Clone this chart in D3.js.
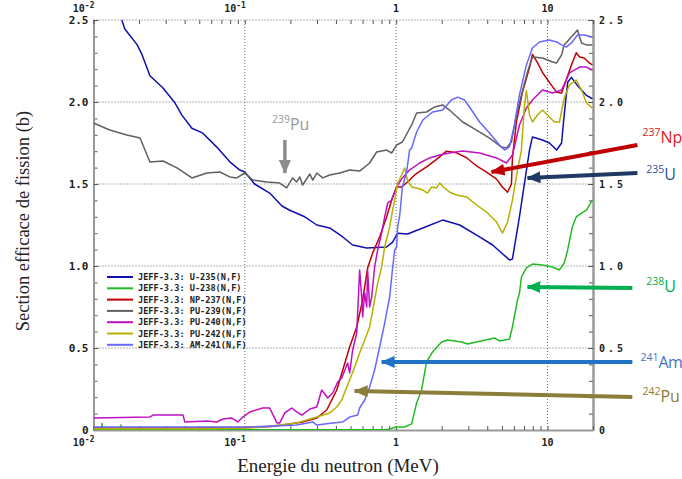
<!DOCTYPE html>
<html>
<head>
<meta charset="utf-8">
<script src="https://cdn.jsdelivr.net/npm/d3@7/dist/d3.min.js"></script>
<style>
body { margin: 0; background: #fff; }
.tick-label { font-family: "DejaVu Sans Mono", monospace; font-weight: bold; fill: #222; }
</style>
</head>
<body>
<div id="chart_div"></div>
<script>
// JEFF-3.3 fission cross sections: [energy (MeV), sigma (b)]
const u235 = [[0.0154,2.50],[0.0161,2.445],[0.0194,2.35],[0.0209,2.29],[0.0236,2.16],[0.0288,2.085],[0.0345,1.995],[0.0384,1.92],
    [0.0447,1.84],[0.0528,1.81],[0.0653,1.725],[0.0796,1.635],[0.0927,1.585],[0.1,1.573],[0.116,1.50],[0.146,1.445],[0.176,1.366],
    [0.198,1.34],[0.249,1.30],[0.299,1.25],[0.364,1.232],[0.444,1.177],[0.516,1.128],[0.639,1.11],[0.865,1.116],[0.948,1.146],
    [1.023,1.20],[1.19,1.195],[1.50,1.232],[2.03,1.28],[2.63,1.25],[3.56,1.177],[4.34,1.128],[5.61,1.037],[5.87,1.043],[6.53,1.30],
    [7.05,1.506],[7.61,1.707],[7.96,1.787],[9.27,1.768],[10.3,1.75],[11.5,1.707],[12.4,1.75],[12.9,1.92],[13.6,2.12],[14.4,2.15],
    [15.8,2.10],[18.1,2.04],[19.8,2.02]];

const u238 = [[0.01,0.002],[0.0113,0.002],[0.01138,0.04],[0.0115,0.002],[0.0151,0.002],[0.01519,0.03],[0.0153,0.002],[0.865,0.002],
    [1.008,0.018],[1.138,0.018],[1.266,0.037],[1.366,0.165],[1.473,0.244],[1.589,0.415],[1.742,0.476],[1.996,0.537],[2.188,0.549],
    [2.706,0.537],[2.965,0.524],[3.398,0.537],[4.467,0.561],[4.82,0.543],[5.61,0.555],[5.87,0.628],[6.34,0.793],[6.53,0.835],
    [6.73,0.933],[7.26,0.988],[7.96,1.012],[9.27,1.006],[10.8,0.994],[12.0,0.976],[12.9,1.018],[13.6,1.098],[14.6,1.238],
    [15.5,1.299],[16.8,1.323],[18.1,1.341],[19.8,1.402]];

const np237 = [[0.01,0.012],[0.05,0.012],[0.1,0.015],[0.15,0.022],[0.178,0.030],[0.241,0.049],[0.299,0.073],[0.348,0.122],
    [0.405,0.244],[0.444,0.366],[0.493,0.506],[0.549,0.628],[0.601,0.793],[0.648,0.988],[0.700,1.080],[0.778,1.177],[0.865,1.299],
    [0.948,1.421],[1.008,1.482],[1.087,1.482],[1.19,1.512],[1.325,1.555],[1.589,1.604],[1.85,1.65],[2.154,1.70],[2.51,1.69],
    [2.92,1.66],[3.40,1.61],[3.96,1.573],[4.61,1.53],[5.05,1.48],[5.45,1.45],[5.78,1.50],[5.87,1.66],[6.24,1.88],[6.84,2.06],
    [7.61,2.21],[7.96,2.29],[8.59,2.24],[9.27,2.18],[10.3,2.12],[11.5,2.06],[12.4,2.055],[13.3,2.134],[14.4,2.226],[15.5,2.30],
    [16.3,2.274],[17.5,2.268],[18.9,2.238],[19.8,2.226]];

const pu239 = [[0.01,1.872],[0.0128,1.829],[0.0166,1.799],[0.0203,1.780],[0.0236,1.634],[0.0288,1.640],[0.0356,1.598],
    [0.0447,1.537],[0.0561,1.567],[0.0684,1.573],[0.0796,1.543],[0.0885,1.537],[0.1,1.567],[0.113,1.524],[0.140,1.512],
    [0.170,1.506],[0.189,1.476],[0.207,1.537],[0.220,1.512],[0.231,1.543],[0.241,1.494],[0.269,1.561],[0.281,1.524],[0.299,1.567],
    [0.327,1.537],[0.364,1.555],[0.424,1.567],[0.493,1.585],[0.574,1.579],[0.668,1.628],[0.743,1.695],[0.865,1.707],[0.934,1.689],
    [1.008,1.738],[1.10,1.756],[1.266,1.860],[1.366,1.933],[1.589,1.939],[1.80,1.970],[2.03,1.982],[2.25,1.951],[2.75,1.878],
    [3.40,1.829],[4.14,1.780],[4.97,1.725],[5.36,1.720],[5.78,1.756],[6.24,1.921],[6.73,2.043],[7.38,2.183],[7.96,2.274],
    [9.27,2.268],[10.8,2.244],[11.5,2.238],[12.4,2.287],[12.9,2.348],[14.4,2.396],[15.8,2.439],[16.8,2.36],[18.1,2.348],[19.8,2.348]];

const pu240 = [[0.01,0.073],[0.0236,0.079],[0.0247,0.091],[0.0390,0.091],[0.0402,0.049],[0.0561,0.055],[0.0653,0.049],
    [0.0716,0.067],[0.0821,0.073],[0.0899,0.049],[0.097,0.079],[0.108,0.110],[0.131,0.134],[0.146,0.134],[0.163,0.043],
    [0.170,0.043],[0.184,0.104],[0.204,0.134],[0.220,0.110],[0.238,0.091],[0.269,0.128],[0.299,0.140],[0.322,0.244],[0.353,0.195],
    [0.381,0.226],[0.411,0.293],[0.437,0.317],[0.478,0.409],[0.493,0.348],[0.516,0.488],[0.549,0.591],[0.574,0.976],[0.592,0.811],
    [0.601,0.689],[0.620,0.835],[0.639,0.750],[0.648,0.976],[0.668,0.750],[0.689,0.811],[0.721,0.994],[0.755,1.098],[0.802,1.201],
    [0.840,1.299],[0.879,1.384],[0.934,1.402],[1.008,1.482],[1.10,1.537],[1.227,1.585],[1.429,1.628],[1.664,1.659],[1.936,1.677],
    [2.25,1.689],[2.75,1.701],[3.56,1.689],[4.61,1.659],[5.36,1.628],[5.87,1.677],[6.53,1.860],[7.26,1.963],[7.96,2.012],
    [9.27,2.073],[10.8,2.055],[12.4,2.073],[13.97,2.177],[16.3,2.213],[18.1,2.213],[19.8,2.195]];

const pu242 = [[0.01,0.008],[0.05,0.008],[0.108,0.012],[0.131,0.018],[0.220,0.043],[0.299,0.079],[0.364,0.104],[0.405,0.140],
    [0.437,0.183],[0.464,0.244],[0.493,0.305],[0.532,0.384],[0.574,0.470],[0.620,0.549],[0.668,0.628],[0.721,0.793],[0.755,0.896],
    [0.802,0.994],[0.840,1.116],[0.906,1.238],[0.948,1.341],[0.978,1.402],[1.023,1.506],[1.087,1.555],[1.138,1.598],[1.19,1.524],
    [1.266,1.482],[1.366,1.476],[1.50,1.463],[1.614,1.445],[1.716,1.482],[1.85,1.476],[1.936,1.506],[2.09,1.476],[2.25,1.451],
    [2.51,1.433],[2.92,1.421],[3.40,1.372],[3.96,1.329],[4.61,1.268],[5.05,1.201],[5.45,1.268],[5.87,1.402],[6.34,1.585],
    [6.73,1.707],[7.05,1.98],[7.26,2.07],[7.61,1.921],[7.96,1.878],[8.59,1.921],[9.27,1.951],[10.0,1.921],[11.1,1.878],
    [12.0,1.878],[12.9,2.024],[13.97,2.104],[15.5,2.134],[16.8,2.073],[18.1,1.994],[19.8,1.963]];

const am241 = [[0.01,0.018],[0.108,0.018],[0.220,0.030],[0.281,0.049],[0.299,0.030],[0.381,0.043],[0.444,0.049],[0.493,0.079],
    [0.557,0.091],[0.574,0.134],[0.620,0.183],[0.668,0.262],[0.721,0.366],[0.778,0.506],[0.840,0.652],[0.906,0.811],[0.948,0.988],
    [0.978,1.098],[1.008,1.116],[1.023,1.238],[1.055,1.305],[1.10,1.482],[1.173,1.573],[1.227,1.707],[1.266,1.719],[1.366,1.817],
    [1.50,1.890],[1.742,1.939],[2.03,1.951],[2.32,2.012],[2.55,2.030],[2.83,2.012],[3.15,1.951],[3.56,1.878],[4.14,1.811],
    [4.82,1.738],[5.20,1.707],[5.61,1.726],[6.05,1.860],[6.53,2.043],[7.26,2.226],[7.96,2.329],[8.85,2.366],[10.3,2.378],
    [11.5,2.366],[12.4,2.348],[13.3,2.335],[14.4,2.360],[15.8,2.409],[17.5,2.409],[19.8,2.396]];

const seriesData = [u235, u238, np237, pu239, pu240, pu242, am241];
const seriesNames = ["JEFF-3.3: U-235(N,F)", "JEFF-3.3: U-238(N,F)", "JEFF-3.3: NP-237(N,F)", "JEFF-3.3: PU-239(N,F)",
    "JEFF-3.3: PU-240(N,F)", "JEFF-3.3: PU-242(N,F)", "JEFF-3.3: AM-241(N,F)"];
const seriesColors = ["#1010b0", "#22bb22", "#c00000", "#606060", "#c010c0", "#b8b000", "#6868ff"];

const xTickVals = [0.01, 0.1, 1, 10];
const xTickBase = ["10", "10", "1", "10"];
const xTickExp = ["-2", "-1", "", ""];
const yTickVals = [0, 0.5, 1, 1.5, 2, 2.5];
const yTickLabels = ["0", "0.5", "1.0", "1.5", "2.0", "2.5"];

// nuclide arrows, in data units: arrow start, arrow tip, label anchor
const annotSup = ["237", "235", "238", "241", "242", "239"];
const annotMain = ["Np", "U", "U", "Am", "Pu", "Pu"];
const annotFrom = [[39.3,1.738],[39.3,1.567],[36.4,0.866],[36.4,0.415],[36.4,0.201],[0.184,1.768]];
const annotTip = [[4.27,1.573],[7.38,1.537],[7.38,0.872],[0.802,0.415],[0.532,0.238],[0.184,1.567]];
const annotLabelAt = [[42.4,1.750],[45.0,1.524],[45.0,0.841],[41.2,0.378],[42.4,0.171],[0.151,1.829]];
const annotColors = ["#c00000", "#1f3864", "#00b050", "#1f74c4", "#8b7d3a", "#8c8c8c"];
const annotTextColors = ["#e02020", "#2f5597", "#00b050", "#4472c4", "#8b7d3a", "#999999"];

var svg = d3.select("#chart_div").append("svg")
    .attr("width", 682)
    .attr("height", 479);

var xScale = d3.scaleLog().domain([0.01, 20]).range([93.5, 593]);
var yScale = d3.scaleLinear().domain([0, 2.5]).range([430, 20]);

svg.append("defs").append("clipPath").attr("id", "plotclip")
    .append("rect")
    .attr("x", xScale(0.01)).attr("y", yScale(2.5))
    .attr("width", xScale(20) - xScale(0.01))
    .attr("height", yScale(0) - yScale(2.5));

// dotted grid
var grid = svg.append("g").attr("stroke", "#444").attr("stroke-width", 0.8).attr("stroke-dasharray", "1,2");
[0.1, 1, 10].forEach(v => {
    grid.append("line")
        .attr("x1", xScale(v)).attr("x2", xScale(v))
        .attr("y1", yScale(0)).attr("y2", yScale(2.5));
});
[0.5, 1, 1.5, 2, 2.5].forEach(v => {
    grid.append("line")
        .attr("x1", xScale(0.01)).attr("x2", xScale(20))
        .attr("y1", yScale(v)).attr("y2", yScale(v));
});

// axes
function styleAxis(g) {
    g.select(".domain").attr("stroke", "#999").attr("stroke-width", 2);
    g.selectAll(".tick line").attr("stroke", "#555");
    g.selectAll(".tick text").attr("class", "tick-label").style("font-size", "11px");
}

svg.append("g")
    .attr("transform", "translate(" + xScale(0.01) + ",0)")
    .call(d3.axisLeft(yScale).tickValues(yScale.ticks(25)).tickSizeInner(-4).tickSizeOuter(0).tickFormat(""))
    .call(styleAxis);
svg.append("g")
    .attr("transform", "translate(" + xScale(0.01) + ",0)")
    .call(d3.axisLeft(yScale).tickValues(yTickVals).tickSizeInner(-5).tickSizeOuter(0).tickPadding(5)
        .tickFormat((d, i) => yTickLabels[i]))
    .call(styleAxis);

svg.append("g")
    .attr("transform", "translate(" + xScale(20) + ",0)")
    .call(d3.axisRight(yScale).tickValues(yScale.ticks(25)).tickSizeInner(-4).tickSizeOuter(0).tickFormat(""))
    .call(styleAxis);
svg.append("g")
    .attr("transform", "translate(" + xScale(20) + ",0)")
    .call(d3.axisRight(yScale).tickValues(yTickVals).tickSizeInner(-5).tickSizeOuter(0).tickPadding(6)
        .tickFormat((d, i) => yTickLabels[i].split("").join(" ")))
    .call(styleAxis)
    .selectAll(".tick text").style("font-size", "10px").attr("letter-spacing", "-1.5");

svg.append("g")
    .attr("transform", "translate(0," + yScale(0) + ")")
    .call(d3.axisBottom(xScale).tickValues(xScale.ticks()).tickSizeInner(-4).tickSizeOuter(0).tickFormat(""))
    .call(styleAxis);

var topAxis = svg.append("g")
    .attr("transform", "translate(0," + yScale(2.5) + ")")
    .call(d3.axisTop(xScale).tickValues(xScale.ticks()).tickSizeInner(-4).tickSizeOuter(0).tickFormat(""))
    .call(styleAxis);
topAxis.select(".domain").attr("stroke", "none");

// x tick labels top and bottom, powers of ten
[12, 446].forEach(yy => {
    xTickVals.forEach((v, i) => {
        let t = svg.append("text")
            .attr("class", "tick-label")
            .attr("x", xTickExp[i] ? xScale(v) + 1 : xScale(v))
            .attr("y", yy)
            .attr("text-anchor", xTickExp[i] ? "end" : "middle")
            .style("font-size", "10px")
            .text(xTickBase[i]);
        if (xTickExp[i]) {
            t.append("tspan").attr("dy", -4).style("font-size", "8px").text(xTickExp[i]);
        }
    });
});

// curves
var line = d3.line()
    .x(d => xScale(d[0]))
    .y(d => yScale(d[1]));

var curves = svg.append("g").attr("clip-path", "url(#plotclip)");
seriesData.forEach((data, i) => {
    curves.append("path")
        .datum(data)
        .attr("fill", "none")
        .attr("stroke", seriesColors[i])
        .attr("stroke-width", 1.5)
        .attr("stroke-linejoin", "round")
        .attr("d", line);
});

// legend
var legend = svg.append("g");
seriesNames.forEach((name, i) => {
    let ly = 277 + i * 11.3;
    legend.append("line")
        .attr("x1", 107).attr("x2", 133)
        .attr("y1", ly).attr("y2", ly)
        .attr("stroke", seriesColors[i])
        .attr("stroke-width", 2);
    legend.append("text")
        .attr("x", 138).attr("y", ly + 3)
        .style("font-family", "'DejaVu Sans Mono', monospace")
        .style("font-weight", "bold")
        .style("font-size", "8.6px")
        .attr("fill", "#222")
        .text(name);
});

// arrows with nuclide labels
var defs = svg.select("defs");
annotColors.forEach((c, i) => {
    defs.append("marker")
        .attr("id", "head" + i)
        .attr("markerUnits", "userSpaceOnUse")
        .attr("markerWidth", 14).attr("markerHeight", 12)
        .attr("refX", 13).attr("refY", 6)
        .attr("orient", "auto")
        .append("path")
        .attr("d", "M0,0 L14,6 L0,12 Z")
        .attr("fill", c);
});

annotFrom.forEach((from, i) => {
    svg.append("line")
        .attr("x1", xScale(from[0])).attr("y1", yScale(from[1]))
        .attr("x2", xScale(annotTip[i][0])).attr("y2", yScale(annotTip[i][1]))
        .attr("stroke", annotColors[i])
        .attr("stroke-width", i == 5 ? 3.5 : 4)
        .attr("marker-end", "url(#head" + i + ")");
    let t = svg.append("text")
        .attr("x", xScale(annotLabelAt[i][0]))
        .attr("y", yScale(annotLabelAt[i][1]))
        .attr("fill", annotTextColors[i])
        .style("font-family", "'Open Sans', 'Noto Sans', sans-serif");
    t.append("tspan").attr("dy", -7).style("font-size", "10.5px").text(annotSup[i]);
    t.append("tspan").attr("dy", 7).style("font-size", "16px").attr("letter-spacing", i == 3 ? "-0.5" : "0").text(annotMain[i]);
});

// axis titles
svg.append("text")
    .attr("transform", "translate(29,221) rotate(-90)")
    .attr("text-anchor", "middle")
    .style("font-family", "'Liberation Serif', 'Times New Roman', serif")
    .style("font-size", "18.5px")
    .attr("fill", "#222")
    .text("Section efficace de fission (b)");

svg.append("text")
    .attr("x", 338).attr("y", 472)
    .attr("text-anchor", "middle")
    .style("font-family", "'Liberation Serif', 'Times New Roman', serif")
    .style("font-size", "19px")
    .attr("fill", "#222")
    .text("Energie du neutron (MeV)");
</script>
</body>
</html>
